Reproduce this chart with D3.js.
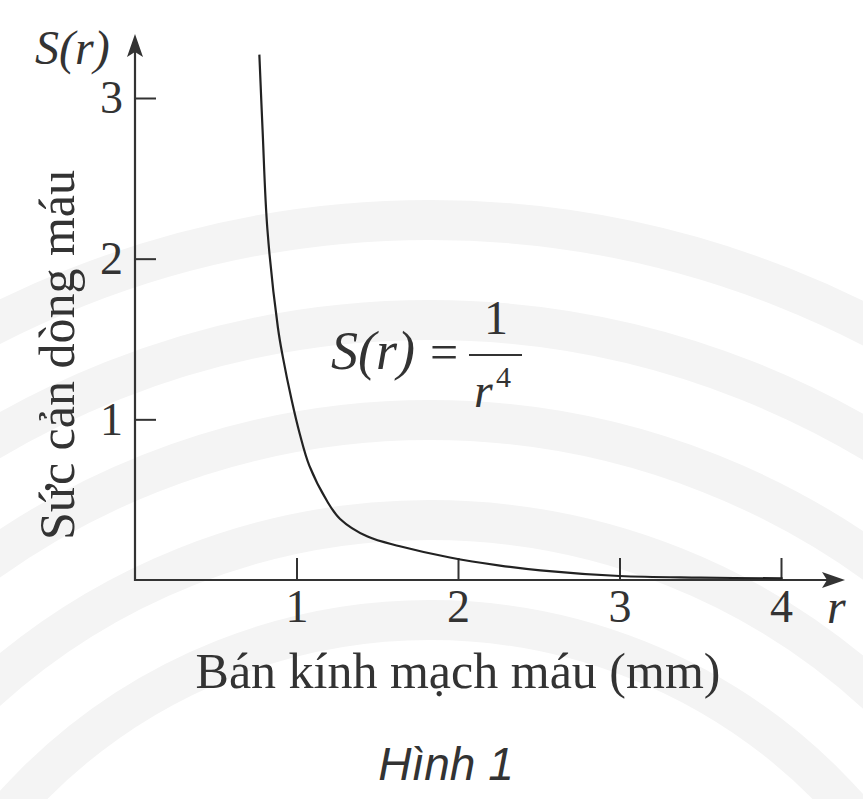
<!DOCTYPE html>
<html>
  <head>
    <meta charset="UTF-8" />
    <title>Hình 1</title>
    <script src="https://d3js.org/d3.v7.min.js"></script>
    <style>
      * {
        margin: 0;
        padding: 0;
        box-sizing: border-box;
      }
      body {
        background-color: #ffffff;
      }
      svg {
        display: block;
      }
      .serif {
        font-family: "Liberation Serif", "Times New Roman", serif;
        fill: #333;
      }
      .tick text {
        font-family: "Liberation Serif", "Times New Roman", serif;
        font-size: 46px;
        fill: #333;
      }
      .tick line {
        stroke: #333;
        stroke-width: 2;
      }
    </style>
  </head>
  <body>
    <svg id="chart" width="863" height="799"></svg>
  </body>
  <script>
    // values
    const xTicks = [1, 2, 3, 4];
    const yTicks = [1, 2, 3];
    const radius = [0.77, 0.79, 0.82, 0.885, 0.915, 0.97, 1.02, 1.08, 1.19, 1.27, 1.44, 1.64, 1.95, 2.26, 2.51, 3.0, 3.5, 4.01];
    const resistance = [3.27, 2.8, 2.18, 1.57, 1.39, 1.12, 0.91, 0.71, 0.49, 0.38, 0.27, 0.21, 0.14, 0.09, 0.06, 0.025, 0.015, 0.01];

    const svg = d3.select("#chart");

    // faint watermark bands in the background
    const bands = [560, 660, 760, 860, 960];
    const bg = svg.append("g").attr("class", "watermark");
    bands.forEach((r) => {
      bg.append("circle")
        .attr("cx", 430)
        .attr("cy", 1180)
        .attr("r", r)
        .attr("fill", "none")
        .attr("stroke", "#f4f4f4")
        .attr("stroke-width", 40);
    });

    const x = d3.scaleLinear().domain([0, 4]).range([135, 781]);
    const y = d3.scaleLinear().domain([0, 3]).range([580, 98]);

    // axes with inward ticks
    const xAxis = d3.axisBottom(x)
      .tickValues(xTicks)
      .tickSizeInner(-22)
      .tickSizeOuter(0)
      .tickPadding(9)
      .tickFormat(d3.format("d"));
    svg.append("g")
      .attr("transform", `translate(0,${y(0)})`)
      .call(xAxis)
      .call((g) => g.select(".domain").remove());

    const yAxis = d3.axisLeft(y)
      .tickValues(yTicks)
      .tickSizeInner(-21)
      .tickSizeOuter(0)
      .tickPadding(12)
      .tickFormat(d3.format("d"));
    svg.append("g")
      .attr("transform", `translate(${x(0)},0)`)
      .call(yAxis)
      .call((g) => g.select(".domain").remove());

    // axis lines with arrow heads
    svg.append("line")
      .attr("x1", x(0)).attr("y1", y(0))
      .attr("x2", 830).attr("y2", y(0))
      .attr("stroke", "#333").attr("stroke-width", 2.2);
    svg.append("path")
      .attr("d", `M845,${y(0)} L822,${y(0) - 8} L827,${y(0)} L822,${y(0) + 8} Z`)
      .attr("fill", "#333");
    svg.append("line")
      .attr("x1", x(0)).attr("y1", y(0) + 1)
      .attr("x2", x(0)).attr("y2", 50)
      .attr("stroke", "#333").attr("stroke-width", 2.2);
    svg.append("path")
      .attr("d", `M${x(0)},34 L${x(0) - 8},57 L${x(0)},52 L${x(0) + 8},57 Z`)
      .attr("fill", "#333");

    // curve
    const points = radius.map((r, i) => [r, resistance[i]]);
    const line = d3.line()
      .x((d) => x(d[0]))
      .y((d) => y(d[1]))
      .curve(d3.curveCatmullRom.alpha(0.5));
    svg.append("path")
      .datum(points)
      .attr("d", line)
      .attr("fill", "none")
      .attr("stroke", "#222")
      .attr("stroke-width", 2.2);

    // labels
    svg.append("text")
      .attr("class", "serif")
      .attr("x", 35).attr("y", 64)
      .attr("font-size", 48)
      .attr("font-style", "italic")
      .text("S(r)");

    svg.append("text")
      .attr("class", "serif")
      .attr("x", 827).attr("y", 623)
      .attr("font-size", 48)
      .attr("font-style", "italic")
      .text("r");

    svg.append("text")
      .attr("class", "serif")
      .attr("transform", "translate(74,355) rotate(-90)")
      .attr("text-anchor", "middle")
      .attr("font-size", 50)
      .text("Sức cản dòng máu");

    svg.append("text")
      .attr("class", "serif")
      .attr("x", 458).attr("y", 688)
      .attr("text-anchor", "middle")
      .attr("font-size", 50)
      .text("Bán kính mạch máu (mm)");

    // formula S(r) = 1 / r^4
    const eq = svg.append("g").attr("class", "serif");
    eq.append("text")
      .attr("x", 331).attr("y", 369)
      .attr("font-size", 54)
      .attr("font-style", "italic")
      .text("S(r)");
    eq.append("text")
      .attr("x", 430).attr("y", 369)
      .attr("font-size", 50)
      .text("=");
    eq.append("line")
      .attr("x1", 469).attr("x2", 522)
      .attr("y1", 355).attr("y2", 355)
      .attr("stroke", "#333").attr("stroke-width", 2);
    eq.append("text")
      .attr("x", 496).attr("y", 334)
      .attr("text-anchor", "middle")
      .attr("font-size", 48)
      .text("1");
    eq.append("text")
      .attr("x", 474).attr("y", 407)
      .attr("font-size", 48)
      .attr("font-style", "italic")
      .text("r");
    eq.append("text")
      .attr("x", 496).attr("y", 387)
      .attr("font-size", 30)
      .text("4");

    svg.append("text")
      .attr("x", 446).attr("y", 780)
      .attr("text-anchor", "middle")
      .attr("font-family", "'Liberation Sans', Arial, sans-serif")
      .attr("font-style", "italic")
      .attr("font-size", 46)
      .attr("fill", "#333")
      .text("Hình 1");
  </script>
</html>
